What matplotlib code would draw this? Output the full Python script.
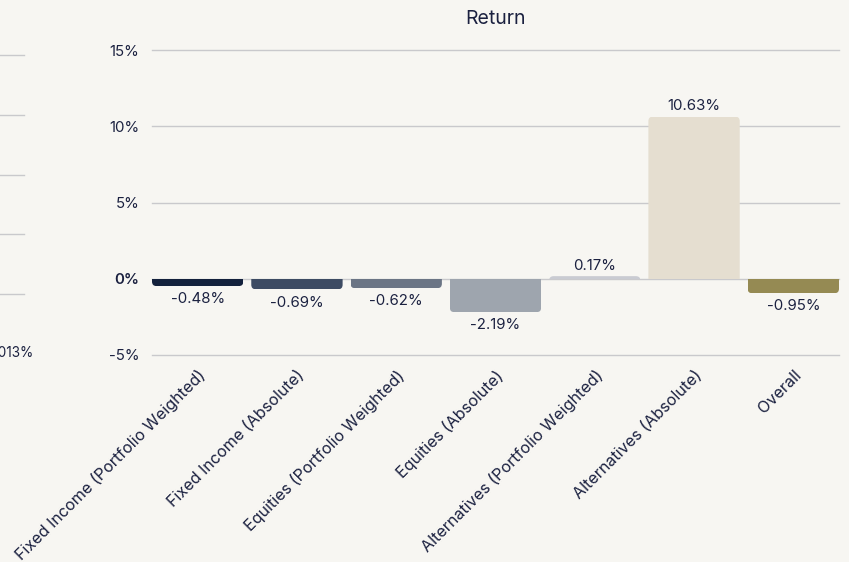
import matplotlib
matplotlib.use("Agg")
import matplotlib.pyplot as plt
from matplotlib.patches import FancyBboxPatch
from matplotlib.ticker import FuncFormatter

categories = [
    "Fixed Income (Portfolio Weighted)",
    "Fixed Income (Absolute)",
    "Equities (Portfolio Weighted)",
    "Equities (Absolute)",
    "Alternatives (Portfolio Weighted)",
    "Alternatives (Absolute)",
    "Overall",
]
returns = [-0.48, -0.69, -0.62, -2.19, 0.17, 10.63, -0.95]
bar_colors = ["#13213c", "#3d4b63", "#6b7585", "#9ea5ae", "#c9cbd2", "#e5ded0", "#958a53"]
y_ticks = [-5, 0, 5, 10, 15]
title = "Return"

BG = "#f7f6f2"
TXT = "#1b2140"
GRID = "#c9c9cc"

plt.rcParams["font.family"] = ["Inter", "DejaVu Sans"]

W, H = 849, 562
fig = plt.figure(figsize=(W / 100, H / 100), dpi=100, facecolor=BG)

# partial neighbouring chart on the far left (clipped by figure edge)
axl = fig.add_axes([-0.2, 1 - 355 / H, 0.2 + 24 / W, (355 - 55) / H])
axl.set_facecolor(BG)
axl.set_ylim(-1.02, 4.0)
axl.set_yticks([0, 1, 2, 3, 4])
axl.yaxis.grid(True, color=GRID, lw=1)
for gl in axl.get_ygridlines():
    gl.set_clip_on(False)
axl.tick_params(left=False, labelleft=False, bottom=False, labelbottom=False)
for s in axl.spines.values():
    s.set_visible(False)
fig.text(33 / W, 1 - 353 / H, "-0.013%", ha="right", va="center", fontsize=9.8, color=TXT)

# main chart
w = 0.92
x0, x1 = 152, 839
ax = fig.add_axes([x0 / W, 1 - 355 / H, (x1 - x0) / W, (355 - 50) / H])
ax.set_facecolor(BG)
ax.set_xlim(-w / 2, len(categories) - 1 + w / 2)
ax.set_ylim(-5, 15)
ax.set_yticks(y_ticks)
ax.yaxis.set_major_formatter(FuncFormatter(lambda v, p: f"{v:.0f}%"))
ax.yaxis.grid(True, color=GRID, lw=1, zorder=0)
ax.set_axisbelow(True)
for gl in ax.get_ygridlines():
    gl.set_clip_on(False)
for s in ax.spines.values():
    s.set_visible(False)
ax.tick_params(axis="y", length=0, pad=9, labelsize=10.8, labelcolor=TXT)
ax.tick_params(axis="x", length=0, pad=9, labelsize=11.6, labelcolor=TXT)

xs = list(range(len(categories)))
bars = ax.bar(xs, returns, width=w, color=bar_colors, zorder=2)

# rounded outer corners
fig.canvas.draw()
px_per_x = ax.transData.transform((1, 0))[0] - ax.transData.transform((0, 0))[0]
px_per_y = ax.transData.transform((0, 1))[1] - ax.transData.transform((0, 0))[1]
r = 4.5 / px_per_x
aspect = px_per_x / px_per_y
for b, c, v in zip(bars, bar_colors, returns):
    b.set_visible(False)
    bx = b.get_x()
    ext = 2 * r * aspect
    if v >= 0:
        y_lo, h = -ext, v + ext
    else:
        y_lo, h = v, -v + ext
    p = FancyBboxPatch((bx, y_lo), w, h,
                       boxstyle=f"round,pad=0,rounding_size={r}",
                       mutation_aspect=aspect, facecolor=c, edgecolor="none", zorder=2)
    ax.add_patch(p)
    clip = plt.Rectangle((bx, min(0, v)), w, abs(v), transform=ax.transData)
    p.set_clip_path(clip)

for x, v in zip(xs, returns):
    off = 2.5 if v >= 0 else -4.5
    ax.annotate(f"{v:.2f}%", (x, v), xytext=(0, off), textcoords="offset points",
                ha="center", va="bottom" if v >= 0 else "top", fontsize=10.8, color=TXT)

ax.set_xticks(xs)
ax.set_xticklabels(categories, rotation=45, ha="right", rotation_mode="anchor")
for lbl in ax.get_xticklabels():
    lbl.set_va("top")
for lbl in ax.get_yticklabels():
    if lbl.get_text() == "0%":
        lbl.set_fontweight("semibold")

ax.set_title(title, fontsize=14, color=TXT, pad=19)

fig.savefig("out.png", dpi=100, facecolor=BG)
